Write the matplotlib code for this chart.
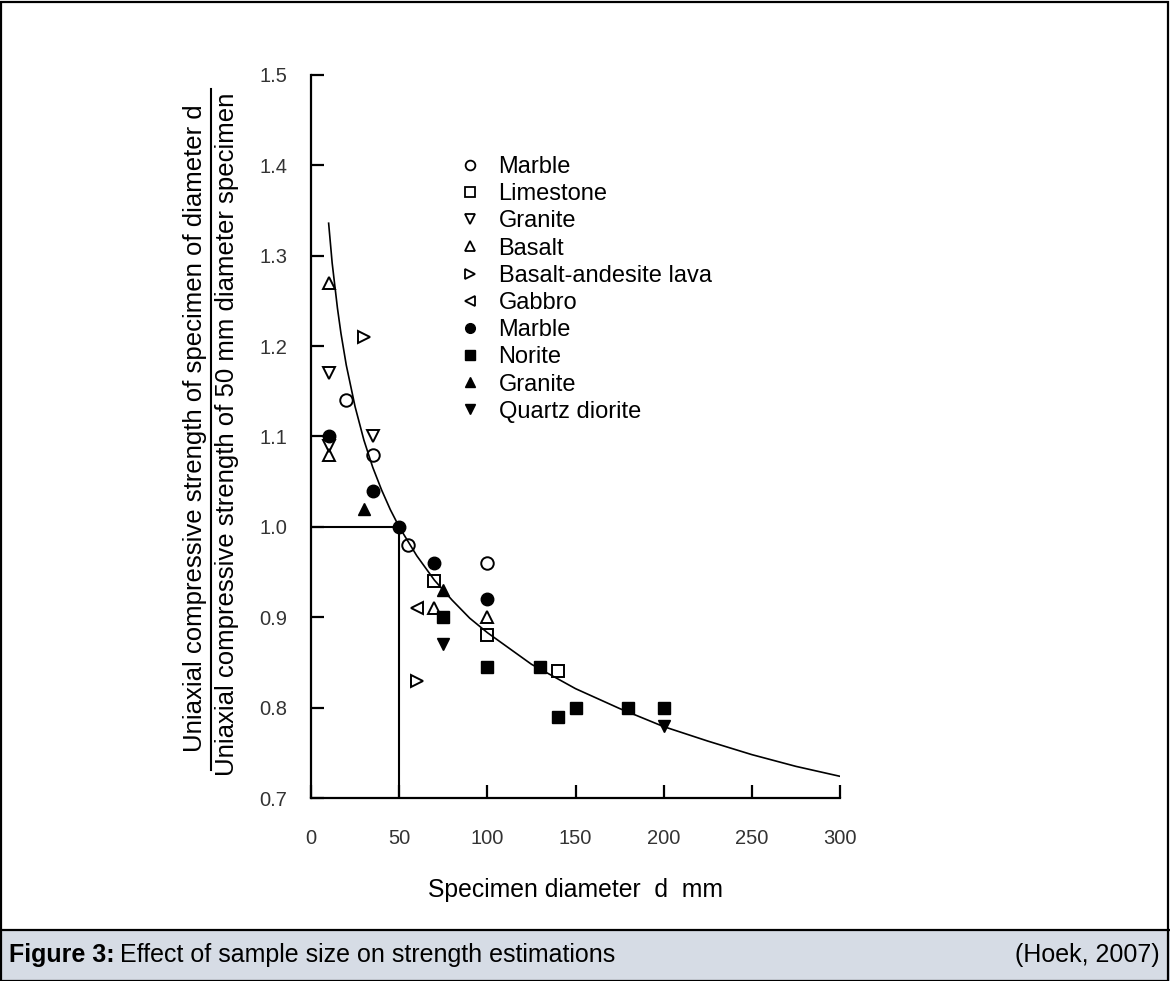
import numpy as np
import matplotlib.pyplot as plt
from matplotlib.lines import Line2D
from matplotlib.patches import Rectangle

plt.rcParams['font.family'] = ['Liberation Sans', 'DejaVu Sans']

# size effect curve
curve_d = [10, 12, 15, 17, 20, 25, 30, 35, 40, 45, 50, 60, 70, 80, 90, 100,
           125, 150, 175, 200, 225, 250, 275, 300]
curve_r = [1.336, 1.292, 1.242, 1.214, 1.179, 1.133, 1.096, 1.066, 1.041,
           1.019, 1.0, 0.968, 0.941, 0.919, 0.899, 0.883, 0.848, 0.821,
           0.799, 0.779, 0.763, 0.748, 0.735, 0.724]

# test points (diameter mm, strength ratio)
marble_o_d = [20, 35, 55, 100]
marble_o_r = [1.14, 1.08, 0.98, 0.96]
limestone_d = [70, 100, 140]
limestone_r = [0.94, 0.88, 0.84]
granite_o_d = [10, 10, 35]
granite_o_r = [1.17, 1.09, 1.10]
basalt_d = [10, 10, 70, 100]
basalt_r = [1.27, 1.08, 0.91, 0.90]
lava_d = [30, 60]
lava_r = [1.21, 0.83]
gabbro_d = [60]
gabbro_r = [0.91]
marble_f_d = [10, 35, 50, 70, 100]
marble_f_r = [1.10, 1.04, 1.00, 0.96, 0.92]
norite_d = [75, 100, 130, 140, 150, 180, 200]
norite_r = [0.90, 0.845, 0.845, 0.79, 0.80, 0.80, 0.80]
granite_f_d = [30, 75]
granite_f_r = [1.02, 0.93]
qdiorite_d = [75, 200]
qdiorite_r = [0.87, 0.78]

xticks = [0, 50, 100, 150, 200, 250, 300]
yticks = [0.7, 0.8, 0.9, 1.0, 1.1, 1.2, 1.3, 1.4, 1.5]

W, H = 1170., 981.
fig = plt.figure(figsize=(11.7, 9.81), dpi=100)
fig.patch.set_facecolor('white')
ax = fig.add_axes([311/W, 1-798/H, 529/W, 723/H])

ax.plot(curve_d, curve_r, color='black', lw=1.2, zorder=2)
ax.plot([0, 50], [1.0, 1.0], color='black', lw=1.5, zorder=2)
ax.plot([50, 50], [0.7, 1.0], color='black', lw=1.5, zorder=2)

series = [
    (marble_o_d, marble_o_r, 'o', False, 'Marble'),
    (limestone_d, limestone_r, 's', False, 'Limestone'),
    (granite_o_d, granite_o_r, 'v', False, 'Granite'),
    (basalt_d, basalt_r, '^', False, 'Basalt'),
    (lava_d, lava_r, '>', False, 'Basalt-andesite lava'),
    (gabbro_d, gabbro_r, '<', False, 'Gabbro'),
    (marble_f_d, marble_f_r, 'o', True, 'Marble'),
    (norite_d, norite_r, 's', True, 'Norite'),
    (granite_f_d, granite_f_r, '^', True, 'Granite'),
    (qdiorite_d, qdiorite_r, 'v', True, 'Quartz diorite'),
]
handles = []
for d, r, m, filled, lab in series:
    ms = 9 if m in 'os' else 8.5
    if filled:
        ax.plot(d, r, ls='none', marker=m, ms=ms, color='black', zorder=3)
        h = Line2D([], [], ls='none', marker=m, ms=7, color='black')
    else:
        ax.plot(d, r, ls='none', marker=m, ms=ms, mfc='none', mec='black',
                mew=1.4, zorder=3)
        h = Line2D([], [], ls='none', marker=m, ms=7, mfc='none',
                   mec='black', mew=1.3)
    handles.append(h)

ax.legend(handles, [s[4] for s in series], loc='upper left',
          bbox_to_anchor=(462/W, 1-156/H), bbox_transform=fig.transFigure,
          frameon=False, fontsize=17, borderpad=0, borderaxespad=0,
          handlelength=0.7, handletextpad=0.85, labelspacing=0.22)

ax.set_xlim(0, 300)
ax.set_ylim(0.7, 1.5)
ax.set_xticks(xticks)
ax.set_yticks(yticks)
ax.set_xticklabels([str(v) for v in xticks])
ax.set_yticklabels(['%.1f' % v for v in yticks])
ax.spines['top'].set_visible(False)
ax.spines['right'].set_visible(False)
for s in ['left', 'bottom']:
    ax.spines[s].set_linewidth(1.6)
ax.tick_params(direction='in', length=9.5, width=1.6, labelsize=14.5,
               labelcolor='#333333')
ax.tick_params(axis='y', pad=17)
ax.tick_params(axis='x', pad=22)

ax.set_xlabel('Specimen diameter  d  mm', fontsize=17.8, labelpad=22)

# y label drawn as a fraction
fig.text(195/W, 1-428/H, 'Uniaxial compressive strength of specimen of diameter d',
         rotation=90, ha='center', va='center', fontsize=18.5)
fig.text(227/W, 1-434/H, 'Uniaxial compressive strength of 50 mm diameter specimen',
         rotation=90, ha='center', va='center', fontsize=18.5)
fig.add_artist(Line2D([211/W, 211/W], [1-89/H, 1-770/H],
                      color='black', lw=1.5))

# caption band and frame
fig.add_artist(Rectangle((0, 0), 1, 51/H, transform=fig.transFigure,
                         facecolor='#d6dce5', edgecolor='none', zorder=0))
fig.add_artist(Line2D([0, 1], [1-930/H, 1-930/H], color='black', lw=1.6))
fig.add_artist(Rectangle((1/W, 0), 1-3/W, 1-2/H, transform=fig.transFigure,
                         facecolor='none', edgecolor='black', lw=1.6))

t1 = fig.text(9/W, 1-962/H, 'Figure 3:', fontsize=18, fontweight='bold',
              ha='left', va='baseline')
fig.canvas.draw()
bb = t1.get_window_extent(renderer=fig.canvas.get_renderer())
fig.text(bb.x1/W + 5/W, 1-962/H, 'Effect of sample size on strength estimations',
         fontsize=18, ha='left', va='baseline')
fig.text(1160/W, 1-962/H, '(Hoek, 2007)', fontsize=18, ha='right',
         va='baseline')

fig.savefig('out.png', dpi=100)
